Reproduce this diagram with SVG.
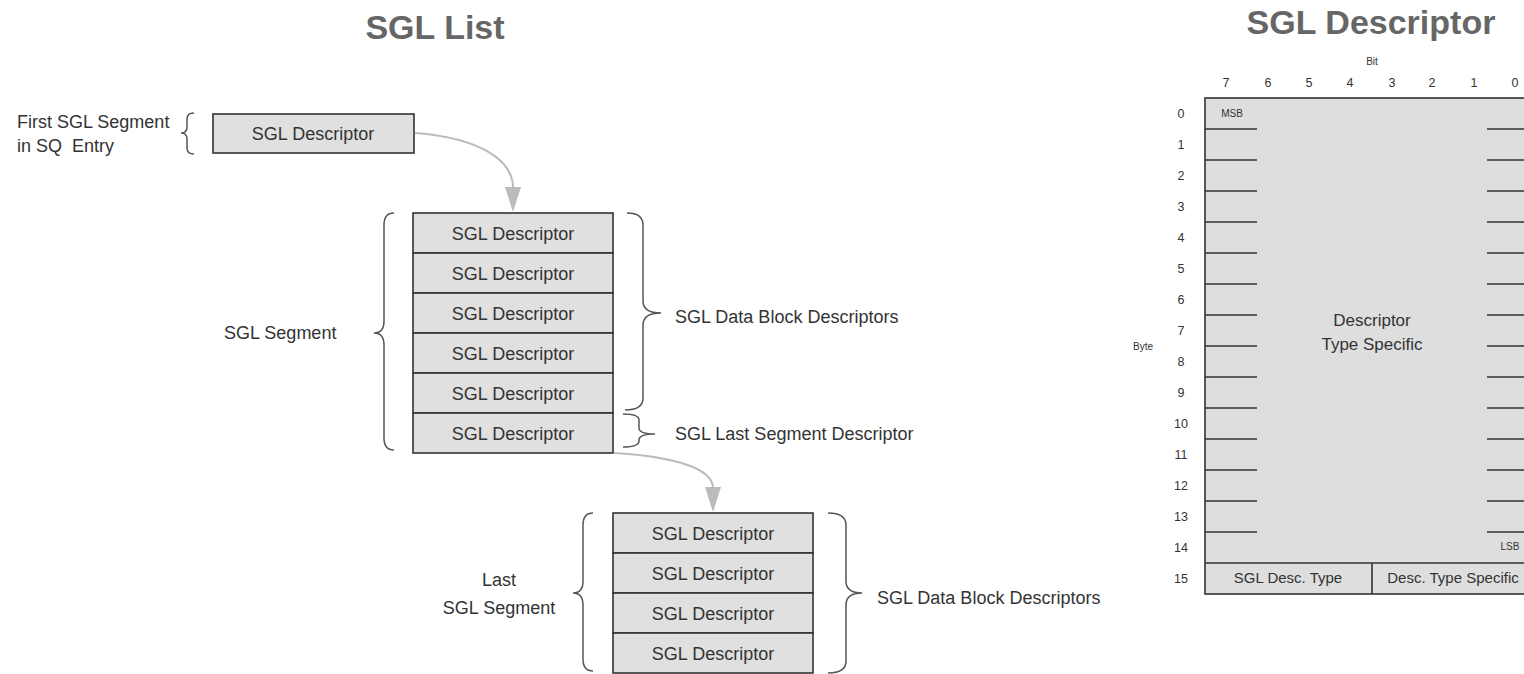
<svg xmlns="http://www.w3.org/2000/svg" width="1524" height="674" viewBox="0 0 1524 674">
<style>
.t{font-family:"Liberation Sans",Arial,sans-serif;fill:#333;font-size:18px}
.c{text-anchor:middle}
.title{font-family:"Liberation Sans",Arial,sans-serif;font-weight:bold;font-size:34px;fill:#666;text-anchor:middle}
.box{fill:#e0e0e0;stroke:#333;stroke-width:1.6}
.br{fill:none;stroke:#555;stroke-width:1.5}
.con{fill:none;stroke:#bbb;stroke-width:2}
.ah{fill:#bbb}
.s{font-family:"Liberation Sans",Arial,sans-serif;fill:#333;font-size:12.5px;text-anchor:middle}
.xs{font-family:"Liberation Sans",Arial,sans-serif;fill:#333;font-size:10px;text-anchor:middle}
.tk{stroke:#333;stroke-width:1.6}
</style>
<rect width="1524" height="674" fill="#fff"/>
<text class="title" x="435" y="39">SGL List</text>
<text class="title" x="1371" y="34">SGL Descriptor</text>

<g id="first-label">
<text class="t" x="17" y="128">First SGL Segment</text>
<text class="t" x="17" y="152" xml:space="preserve">in SQ  Entry</text>
<path class="br" d="M194,113 Q187,113 187,119 L187,127 Q187,133 181,133 Q187,133 187,139 L187,148 Q187,154 194,154"/>
</g>
<g id="first-desc">
<rect class="box" x="213" y="114" width="201" height="39"/>
<text class="t c" x="313" y="140">SGL Descriptor</text>
</g>

<g id="segment">
<rect class="box" x="413" y="213" width="200" height="40"/>
<text class="t c" x="513" y="240">SGL Descriptor</text>
<rect class="box" x="413" y="253" width="200" height="40"/>
<text class="t c" x="513" y="280">SGL Descriptor</text>
<rect class="box" x="413" y="293" width="200" height="40"/>
<text class="t c" x="513" y="320">SGL Descriptor</text>
<rect class="box" x="413" y="333" width="200" height="40"/>
<text class="t c" x="513" y="360">SGL Descriptor</text>
<rect class="box" x="413" y="373" width="200" height="40"/>
<text class="t c" x="513" y="400">SGL Descriptor</text>
<rect class="box" x="413" y="413" width="200" height="40"/>
<text class="t c" x="513" y="440">SGL Descriptor</text>
</g>
<g id="segment-label">
<text class="t" x="224" y="339">SGL Segment</text>
<path class="br" d="M394,213 Q384,213 384,225 L384,321 Q384,333 374,333 Q384,333 384,345 L384,438 Q384,450 394,450"/>
</g>
<g id="data-label">
<path class="br" d="M627,213 Q643,213 643,225 L643,301 Q643,313 661,313 Q643,313 643,325 L643,398 Q643,410 625,410"/>
<text class="t" x="675" y="323">SGL Data Block Descriptors</text>
</g>
<g id="last-desc-label">
<path class="br" d="M623,414 Q639,414 639,420 L639,428 Q639,434 655,434 Q639,434 639,440 L639,441 Q639,447 623,447"/>
<text class="t" x="675" y="440">SGL Last Segment Descriptor</text>
</g>

<g id="last-segment">
<rect class="box" x="613" y="513" width="200" height="40"/>
<text class="t c" x="713" y="540">SGL Descriptor</text>
<rect class="box" x="613" y="553" width="200" height="40"/>
<text class="t c" x="713" y="580">SGL Descriptor</text>
<rect class="box" x="613" y="593" width="200" height="40"/>
<text class="t c" x="713" y="620">SGL Descriptor</text>
<rect class="box" x="613" y="633" width="200" height="40"/>
<text class="t c" x="713" y="660">SGL Descriptor</text>
</g>
<g id="last-segment-label">
<text class="t c" x="499" y="586">Last</text>
<text class="t c" x="499" y="614">SGL Segment</text>
<path class="br" d="M593,513 Q583,513 583,525 L583,581 Q583,593 573,593 Q583,593 583,605 L583,659 Q583,671 593,671"/>
</g>
<g id="last-data-label">
<path class="br" d="M828,513 Q846,513 846,525 L846,581 Q846,593 862,593 Q846,593 846,605 L846,661 Q846,673 828,673"/>
<text class="t" x="877" y="604">SGL Data Block Descriptors</text>
</g>

<g id="connectors">
<path class="con" d="M415,133 C480,138 513,160 513,188"/>
<polygon class="ah" points="505,187 521,187 513,212"/>
<path class="con" d="M614,453 C680,457 713,470 713,488"/>
<polygon class="ah" points="705,487 721,487 713,512"/>
</g>

<g id="descriptor-format">
<text class="xs" x="1372" y="65">Bit</text>
<text class="s" x="1226" y="87">7</text>
<text class="s" x="1268" y="87">6</text>
<text class="s" x="1309" y="87">5</text>
<text class="s" x="1350" y="87">4</text>
<text class="s" x="1392" y="87">3</text>
<text class="s" x="1432" y="87">2</text>
<text class="s" x="1474" y="87">1</text>
<text class="s" x="1515" y="87">0</text>
<text class="xs" x="1143" y="350">Byte</text>
<rect x="1205" y="98" width="340" height="496" fill="#dedede" stroke="#333" stroke-width="1.6"/>
<line class="tk" x1="1205" y1="563" x2="1545" y2="563"/>
<line class="tk" x1="1372" y1="563" x2="1372" y2="594"/>
<g class="tk">
<line x1="1205" y1="129" x2="1257" y2="129"/><line x1="1487" y1="129" x2="1545" y2="129"/>
<line x1="1205" y1="160" x2="1257" y2="160"/><line x1="1487" y1="160" x2="1545" y2="160"/>
<line x1="1205" y1="191" x2="1257" y2="191"/><line x1="1487" y1="191" x2="1545" y2="191"/>
<line x1="1205" y1="222" x2="1257" y2="222"/><line x1="1487" y1="222" x2="1545" y2="222"/>
<line x1="1205" y1="253" x2="1257" y2="253"/><line x1="1487" y1="253" x2="1545" y2="253"/>
<line x1="1205" y1="284" x2="1257" y2="284"/><line x1="1487" y1="284" x2="1545" y2="284"/>
<line x1="1205" y1="315" x2="1257" y2="315"/><line x1="1487" y1="315" x2="1545" y2="315"/>
<line x1="1205" y1="346" x2="1257" y2="346"/><line x1="1487" y1="346" x2="1545" y2="346"/>
<line x1="1205" y1="377" x2="1257" y2="377"/><line x1="1487" y1="377" x2="1545" y2="377"/>
<line x1="1205" y1="408" x2="1257" y2="408"/><line x1="1487" y1="408" x2="1545" y2="408"/>
<line x1="1205" y1="439" x2="1257" y2="439"/><line x1="1487" y1="439" x2="1545" y2="439"/>
<line x1="1205" y1="470" x2="1257" y2="470"/><line x1="1487" y1="470" x2="1545" y2="470"/>
<line x1="1205" y1="501" x2="1257" y2="501"/><line x1="1487" y1="501" x2="1545" y2="501"/>
<line x1="1205" y1="532" x2="1257" y2="532"/><line x1="1487" y1="532" x2="1545" y2="532"/>
</g>
<text class="s" x="1181" y="118">0</text>
<text class="s" x="1181" y="149">1</text>
<text class="s" x="1181" y="180">2</text>
<text class="s" x="1181" y="211">3</text>
<text class="s" x="1181" y="242">4</text>
<text class="s" x="1181" y="273">5</text>
<text class="s" x="1181" y="304">6</text>
<text class="s" x="1181" y="335">7</text>
<text class="s" x="1181" y="366">8</text>
<text class="s" x="1181" y="397">9</text>
<text class="s" x="1181" y="428">10</text>
<text class="s" x="1181" y="459">11</text>
<text class="s" x="1181" y="490">12</text>
<text class="s" x="1181" y="521">13</text>
<text class="s" x="1181" y="552">14</text>
<text class="s" x="1181" y="583">15</text>
<text class="xs" x="1232" y="117">MSB</text>
<text class="xs" x="1510" y="550">LSB</text>
<text class="t c" x="1372" y="326" style="font-size:17px">Descriptor</text>
<text class="t c" x="1372" y="350" style="font-size:17px">Type Specific</text>
<text class="t c" x="1288" y="583" style="font-size:15px">SGL Desc. Type</text>
<text class="t c" x="1453" y="583" style="font-size:15px">Desc. Type Specific</text>
</g>
</svg>
